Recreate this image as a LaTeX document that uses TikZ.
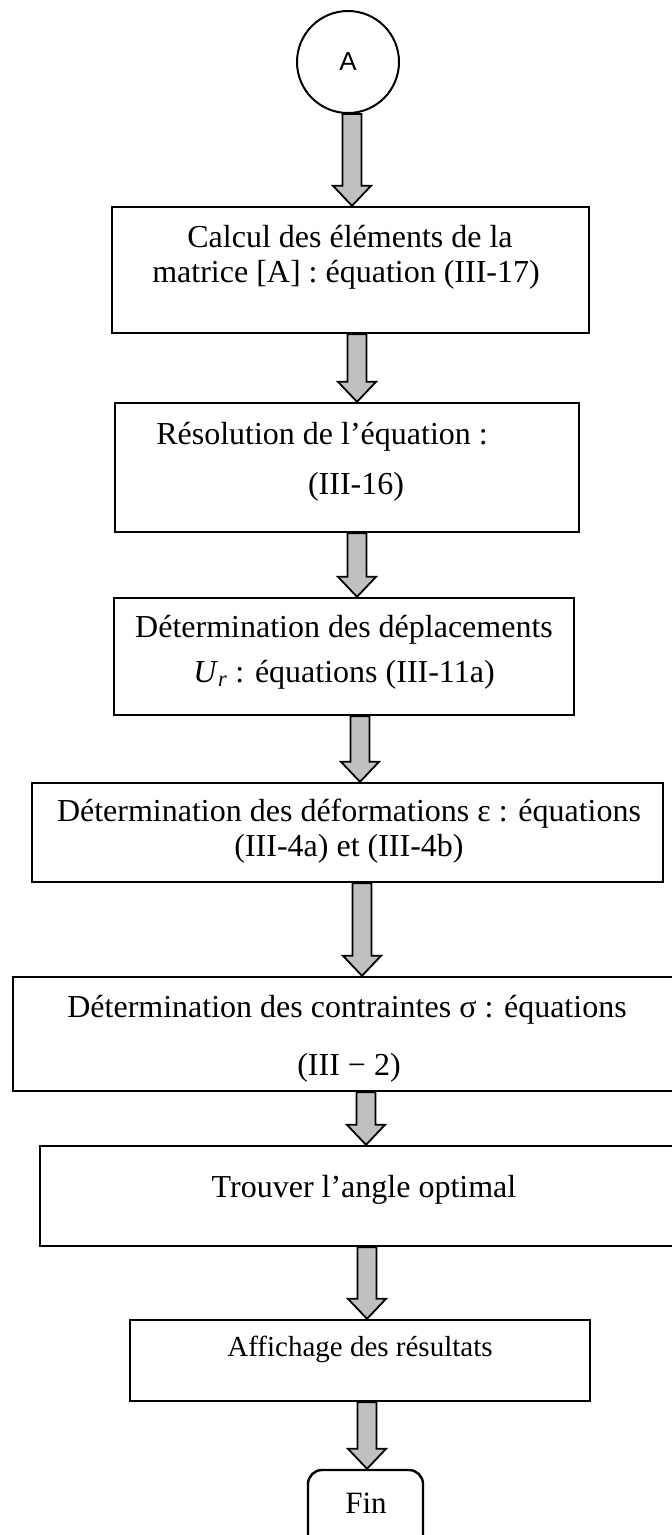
\documentclass[tikz,border=0pt]{standalone}
\usepackage{fontspec}
\setmainfont{Liberation Serif}
\newfontfamily\arialfont{Liberation Sans}
\usetikzlibrary{calc}

\definecolor{arrowgray}{HTML}{C0C0C0}

\tikzset{
  stepbox/.style={draw, line width=2.4pt, inner sep=0pt},
  flowarr/.style={draw, line width=1.8pt, fill=arrowgray, line join=miter},
  txt/.style={inner sep=0pt, font=\fontsize{32}{38}\selectfont},
}

% block arrow at x=#1 from the bottom of #2 to the top of #3
\newcommand{\flowarrow}[3]{%
  \draw[flowarr] let \p1=(#2.south), \p2=(#3.north) in
    ({#1pt-9.5pt},\y1) -- ({#1pt-9.5pt},\y2+20pt) -- ({#1pt-19pt},\y2+20pt)
    -- (#1pt,\y2) -- ({#1pt+19pt},\y2+20pt) -- ({#1pt+9.5pt},\y2+20pt)
    -- ({#1pt+9.5pt},\y1) -- cycle;}

\begin{document}
\begin{tikzpicture}[x=1pt, y=-1pt]
        \clip (0,0) rectangle (672,1535);
        \useasboundingbox (0,0) rectangle (672,1535);

        \node[draw, circle, line width=2pt, minimum size=102pt, inner sep=0pt,
              font=\arialfont\fontsize{26}{30}\selectfont] (start) at (348, 62) {A};

        \node[stepbox, minimum width=477pt, minimum height=126pt] (matA) at (350.5, 270) {};
        \node[txt] (matAa) at (350, 237) {Calcul des éléments de la};
        \node[txt] (matAb) at (346, 275) {matrice [A] : équation (III-17)};

        \node[stepbox, minimum width=464pt, minimum height=129pt] (resol) at (347, 467.5) {};
        \node[txt] (resola) at (322, 437) {Résolution de l’équation :};
        \node[txt] (resolb) at (356, 487) {(III-16)};

        \node[stepbox, minimum width=460pt, minimum height=117pt] (depl) at (344, 656.5) {};
        \node[txt] (depla) at (344, 630) {Détermination des déplacements};
        \node[txt] (deplb) at (344, 675) {\textit{U}\textsubscript{\textit{r}} : équations (III-11a)};

        \node[stepbox, minimum width=631pt, minimum height=99pt] (defo) at (347.5, 832.5) {};
        \node[txt] (defoa) at (349, 814) {Détermination des déformations ε : équations};
        \node[txt] (defob) at (349, 849) {(III-4a) et (III-4b)};

        \node[stepbox, minimum width=677pt, minimum height=114pt] (contr) at (351.5, 1034) {};
        \node[txt] (contra) at (347, 1010) {Détermination des contraintes σ : équations};
        \node[txt] (contrb) at (349, 1068) {(III − 2)};

        \node[stepbox, minimum width=650pt, minimum height=100pt] (angle) at (365, 1196) {};
        \node[txt] (anglea) at (364, 1190) {Trouver l’angle optimal};

        \node[stepbox, minimum width=460pt, minimum height=81pt] (affich) at (360, 1360.5) {};
        \node[txt, font=\fontsize{29}{34}\selectfont] (afficha) at (360, 1349) {Affichage des résultats};

        \node[stepbox, rounded corners=14pt, minimum width=115pt, minimum height=90pt] (fin) at (365.5, 1515) {};
        \node[txt, font=\fontsize{31}{36}\selectfont] (fina) at (366, 1503) {Fin};

        \flowarrow{352}{start}{matA}
        \flowarrow{357}{matA}{resol}
        \flowarrow{357}{resol}{depl}
        \flowarrow{360}{depl}{defo}
        \flowarrow{362}{defo}{contr}
        \flowarrow{366}{contr}{angle}
        \flowarrow{367}{angle}{affich}
        \flowarrow{367}{affich}{fin}
\end{tikzpicture}
\end{document}
